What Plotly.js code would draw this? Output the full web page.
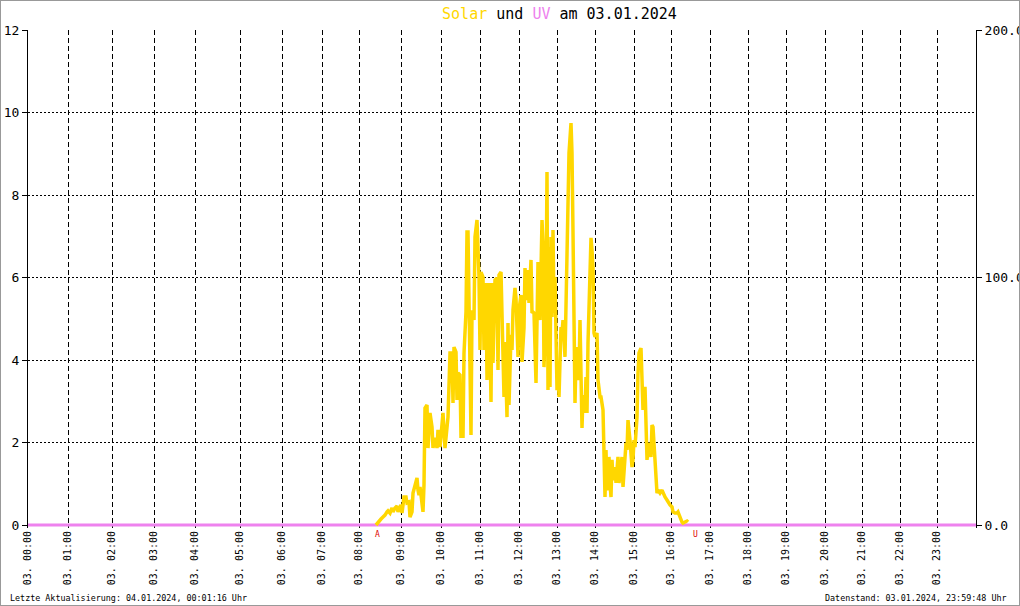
<!DOCTYPE html>
<html>
<head>
<meta charset="utf-8">
<script src="https://cdn.plot.ly/plotly-3.0.1.min.js"></script>
<style>
  html, body { margin: 0; padding: 0; background: #fff; }
  #wrap { position: relative; width: 1020px; height: 606px; }
  #chart { width: 1020px; height: 606px; }
  #frame { position: absolute; left: 0; top: 0; width: 1020px; height: 606px; box-sizing: border-box; border: 1px solid #999; pointer-events: none; }
</style>
</head>
<body>
<div id="wrap"><div id="chart"></div><div id="frame"></div></div>
<script>
// ---- data (x = record number of the day's log, hour marks placed at their record numbers) ----
const hourLabels = ["03. 00:00","03. 01:00","03. 02:00","03. 03:00","03. 04:00","03. 05:00","03. 06:00","03. 07:00",
  "03. 08:00","03. 09:00","03. 10:00","03. 11:00","03. 12:00","03. 13:00","03. 14:00","03. 15:00",
  "03. 16:00","03. 17:00","03. 18:00","03. 19:00","03. 20:00","03. 21:00","03. 22:00","03. 23:00"];
const hourRecord = [0,40,84,126,167,212,254,294,331,373,413,452,491,529,567,606,643,682,720,758,797,834,872,909];
const lastRecord = 948;

// Solar radiation (W/m²), right axis
const solarRecord = [348,350,353,355,357,359,360,362,364,365,367,369,370,373,374,376,378,379,381,382,384,385,387,389,390,391,392,394,395,396,
  397,399,400,402,404,405,407,409,410,412,414,415,417,419,420,422,424,425,426,428,429,430,432,433,434,435,436,438,439,440,
  441,443,444,445,446,447,449,450,451,452,453,455,456,458,459,461,463,464,465,467,469,470,471,473,474,475,476,477,479,480,
  481,483,484,485,487,488,489,490,491,493,494,496,497,499,500,501,503,504,505,506,508,509,510,512,514,515,516,518,519,520,
  521,522,523,524,525,526,527,529,530,531,533,534,535,537,538,539,540,541,543,544,545,546,547,548,549,550,551,552,553,554,
  555,557,558,559,560,561,562,563,564,565,566,567,569,570,572,573,575,576,577,578,579,580,581,582,583,584,585,586,587,588,
  589,590,591,592,594,595,597,598,599,600,602,604,605,606,607,609,610,611,613,614,615,617,619,620,621,623,624,625,627,629,
  630,632,634,635,637,639,640,642,644,645,647,649,650,652,654,655,657,659,660];
const solarWm2 = [0,1.2,2.4,3.2,4.0,5.3,5.7,4.8,6.9,5.3,6.9,7.7,5.3,8.1,4.8,11.3,11.3,8.9,9.3,3.2,5.3,12.9,16.2,19.0,14.1,12.1,15.4,7.3,5.3,16.2,
  47.3,48.5,31.1,45.3,39.6,31.1,35.2,31.1,38.4,31.5,43.6,45.3,31.1,38.4,43.6,69.5,69.5,49.3,71.9,69.9,50.5,61.4,60.6,35.2,55.8,35.2,69.5,86.1,118.4,118.4,
  86.9,36.4,86.1,86.1,82.8,116.4,123.2,112.3,100.2,70.7,102.2,100.2,70.7,97.8,58.6,97.8,49.7,97.8,65.5,99.0,99.8,62.6,101.0,102.2,81.6,54.5,51.7,73.9,43.6,81.6,
  48.5,76.8,70.7,86.9,95.8,91.7,70.7,67.9,86.9,92.9,65.9,79.6,103.8,90.9,103.0,89.7,107.1,85.7,86.1,85.7,57.4,88.9,106.3,82.8,123.2,113.9,63.8,92.1,142.6,54.5,
  112.3,55.8,116.4,84.0,119.2,85.7,100.2,54.5,63.8,51.7,80.0,77.6,82.8,67.9,92.1,103.8,130.1,150.3,162.4,150.3,118.4,82.8,49.3,67.9,71.9,58.6,60.6,82.8,60.6,39.2,
  52.5,45.3,59.8,45.3,73.5,90.9,105.1,116.0,111.1,104.2,77.6,76.0,77.6,58.6,51.7,51.7,46.5,31.5,11.3,30.3,14.1,15.4,27.5,17.0,11.3,26.3,18.2,19.4,23.4,17.0,
  25.1,27.5,17.0,21.0,27.5,15.4,27.5,33.1,30.3,42.4,34.3,23.4,26.3,34.3,31.5,43.6,61.4,69.5,71.5,58.6,46.5,55.8,26.3,30.3,33.1,27.5,40.4,39.6,23.4,12.9,
  14.1,12.9,14.1,12.9,11.3,10.1,9.3,8.1,7.3,5.3,4.8,4.8,5.3,2.8,1.2,0.8,1.2,1.6,1.2,0.4,0];

// UV index (left axis) - zero all day
const uvRecord = hourRecord.concat([lastRecord]);
const uvIndex = [0,0,0,0,0,0,0,0,0,0,0,0,0,0,0,0,0,0,0,0,0,0,0,0,0];

// sunrise / sunset marks
const sunEvents = ["A","U"];
const sunRecord = [349, 667];

const mono = "DejaVu Sans Mono, Liberation Mono, monospace";

// line fixes (trim mismatch safeguard)
const n = Math.min(solarRecord.length, solarWm2.length);

const traces = [
  { x: solarRecord.slice(0, n), y: solarWm2.slice(0, n), yaxis: "y2", type: "scatter", mode: "lines",
    line: { color: "#FFD700", width: 3.5 }, hoverinfo: "skip", showlegend: false },
  { x: uvRecord, y: uvIndex, yaxis: "y", type: "scatter", mode: "lines",
    line: { color: "#EE82EE", width: 3 }, hoverinfo: "skip", showlegend: false }
];

const annotations = [
  { xref: "paper", yref: "paper", x: -0.0211, y: -0.1406, xanchor: "left", yanchor: "middle", showarrow: false,
    text: "Letzte Aktualisierung: 04.01.2024, 00:01:16 Uhr", font: { family: mono, size: 8.4, color: "#000" } },
  { xref: "paper", yref: "paper", x: 1.0348, y: -0.1406, xanchor: "right", yanchor: "middle", showarrow: false,
    text: "Datenstand: 03.01.2024, 23:59:48 Uhr", font: { family: mono, size: 8.4, color: "#000" } }
];
sunEvents.forEach((t, i) => annotations.push({
  xref: "x", yref: "paper", x: sunRecord[i], y: 0, xanchor: "center", yanchor: "top", showarrow: false,
  text: t, font: { family: mono, size: 8, color: "#E00000" }
}));

const layout = {
  width: 1020, height: 606,
  margin: { l: 28, r: 44, t: 30, b: 78, pad: 0 },
  paper_bgcolor: "#fff", plot_bgcolor: "#fff",
  showlegend: false,
  title: {
    text: '<span style="color:#FFD700">Solar</span> und <span style="color:#EE82EE">UV</span> am 03.01.2024',
    font: { family: mono, size: 15, color: "#000" },
    xref: "container", yref: "container", x: 0.5485, y: 0.978, xanchor: "center", yanchor: "middle"
  },
  xaxis: {
    range: [0, lastRecord], tickmode: "array", tickvals: hourRecord, ticktext: hourLabels,
    tickangle: -90, ticks: "", showline: false, zeroline: false,
    showgrid: true, gridcolor: "#000", gridwidth: 1, griddash: "5px,3px",
    tickfont: { family: mono, size: 10, color: "#000" }, fixedrange: true
  },
  yaxis: {
    range: [-0.0727, 12], tickmode: "linear", tick0: 0, dtick: 2,
    showline: true, linecolor: "#000", linewidth: 1, ticks: "outside", ticklen: 5, tickcolor: "#000",
    showgrid: true, gridcolor: "#000", gridwidth: 1, griddash: "2px,2px", zeroline: false,
    tickfont: { family: mono, size: 13, color: "#000" }, fixedrange: true
  },
  yaxis2: {
    overlaying: "y", side: "right", range: [-1.212, 200], tickmode: "array", tickvals: [0, 100, 200],
    tickformat: ".1f", showline: true, linecolor: "#000", linewidth: 1, ticks: "outside", ticklen: 5, tickcolor: "#000",
    showgrid: false, zeroline: false,
    tickfont: { family: mono, size: 13, color: "#000" }, fixedrange: true
  },
  annotations: annotations
};

Plotly.newPlot("chart", traces, layout, { staticPlot: true, displayModeBar: false });
</script>
</body>
</html>
